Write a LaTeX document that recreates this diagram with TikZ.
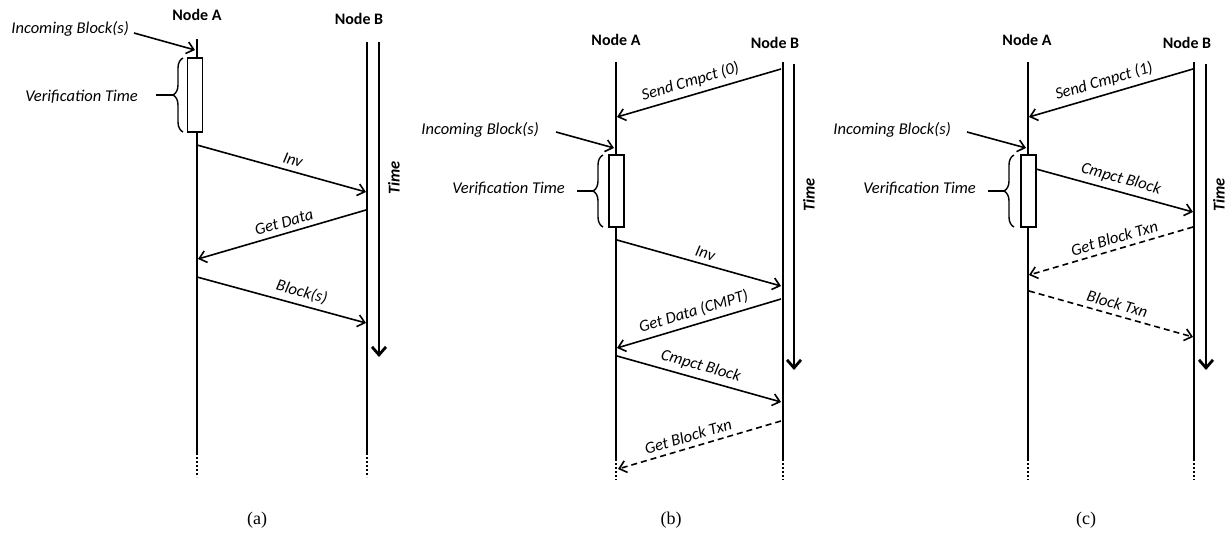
\documentclass[tikz,border=0pt]{standalone}
\usepackage{fontspec}
\setmainfont{Carlito}
\newfontfamily\capfont{Liberation Serif}
\usetikzlibrary{arrows.meta,decorations.pathreplacing}

\begin{document}
\begin{tikzpicture}[x=1pt,y=-1pt,
  font=\fontsize{16}{19}\selectfont,
  life/.style={line width=1.5pt},
  lifedots/.style={line width=1.8pt, dash pattern=on 2pt off 2pt},
  msg/.style={line width=1.6pt, -{Straight Barb[length=7pt,width=12pt]}},
  lazy/.style={msg, dash pattern=on 6pt off 4pt},
  timeax/.style={line width=2.8pt, -{Straight Barb[length=8pt,width=14pt]}},
  lbl/.style={above=4.5pt, sloped, inner sep=0.5pt, font=\fontsize{16.5}{19}\selectfont\itshape},
  side/.style={inner sep=0pt, font=\fontsize{16.5}{19}\selectfont\itshape},
  head/.style={inner sep=0pt, font=\fontsize{16}{19}\selectfont\bfseries},
  timelbl/.style={rotate=90, inner sep=0pt, font=\fontsize{16.5}{19}\selectfont\bfseries\itshape},
  vbox/.style={draw, fill=white, line width=1.5pt, minimum width=15pt, inner sep=0pt},
  vbrace/.style={decorate, decoration={brace, amplitude=10pt, aspect=0.5}, line width=1.4pt},
  subcap/.style={inner sep=0pt, font=\capfont\fontsize{18}{21}\selectfont}
]
\useasboundingbox (0,0) rectangle (1231,544);

% ---------------- (a) ----------------
\node[head] (aA) at (197,15) {Node A};
\node[head] (aB) at (359,19) {Node B};
\coordinate (aAtop) at (197,39);  \coordinate (aAend) at (197,453); \coordinate (aAbot) at (197,477);
\coordinate (aBtop) at (367,42);  \coordinate (aBend) at (367,453); \coordinate (aBbot) at (367,477);
\draw[life] (aAtop) -- (aAend);  \draw[lifedots] (aAend) -- (aAbot);
\draw[life] (aBtop) -- (aBend);  \draw[lifedots] (aBend) -- (aBbot);
\coordinate (aT1) at (379,42); \coordinate (aT2) at (379,357);
\draw[timeax] (aT1) -- (aT2);
\node[timelbl] (aTime) at (394,178) {Time};

\node[side, anchor=east] (aInc) at (129,29) {Incoming Block(s)};
\coordinate (aIn1) at (134,33); \coordinate (aIn2) at (195,50);
\draw[msg] (aIn1) -- (aIn2);
\node[vbox, minimum height=74pt] (aVer) at (195,95) {};
\draw[vbrace] (183,132) -- (183,58);
\node[side, anchor=east] (aVt) at (138,97) {Verification Time};
\coordinate (aD1) at (156,95); \coordinate (aD2) at (173,95);
\draw[line width=1.4pt] (aD1) -- (aD2);

\coordinate (a1s) at (197,145); \coordinate (a1e) at (366,192);
\coordinate (a2s) at (366,210); \coordinate (a2e) at (198,259);
\coordinate (a3s) at (197,277); \coordinate (a3e) at (366,323);
\draw[msg] (a1s) -- node[lbl, pos=0.55] {Inv} (a1e);
\draw[msg] (a2s) -- node[lbl, pos=0.47] {Get Data} (a2e);
\draw[msg] (a3s) -- node[lbl, pos=0.6] {Block(s)} (a3e);

% ---------------- (b) ----------------
\node[head] (bA) at (616,40) {Node A};
\node[head] (bB) at (775,43) {Node B};
\coordinate (bAtop) at (616,62);  \coordinate (bAend) at (616,459); \coordinate (bAbot) at (616,480);
\coordinate (bBtop) at (783,62);  \coordinate (bBend) at (783,459); \coordinate (bBbot) at (783,480);
\draw[life] (bAtop) -- (bAend);  \draw[lifedots] (bAend) -- (bAbot);
\draw[life] (bBtop) -- (bBend);  \draw[lifedots] (bBend) -- (bBbot);
\coordinate (bT1) at (794,64); \coordinate (bT2) at (794,370);
\draw[timeax] (bT1) -- (bT2);
\node[timelbl] (bTime) at (809,195) {Time};

\coordinate (b0s) at (781,69); \coordinate (b0e) at (617,117);
\draw[msg] (b0s) -- node[lbl, pos=0.53] {Send Cmpct (0)} (b0e);

\node[side, anchor=east] (bInc) at (539,130) {Incoming Block(s)};
\coordinate (bIn1) at (556,132); \coordinate (bIn2) at (614,148);
\draw[msg] (bIn1) -- (bIn2);
\node[vbox, minimum height=72pt] (bVer) at (616.5,191) {};
\draw[vbrace] (603,227) -- (603,155);
\node[side, anchor=east] (bVt) at (565,189) {Verification Time};
\coordinate (bD1) at (577,191); \coordinate (bD2) at (593,191);
\draw[line width=1.4pt] (bD1) -- (bD2);

\coordinate (b1s) at (617,240); \coordinate (b1e) at (781,286);
\coordinate (b2s) at (781,299); \coordinate (b2e) at (617,348);
\coordinate (b3s) at (617,356); \coordinate (b3e) at (781,402);
\coordinate (b4s) at (781,421); \coordinate (b4e) at (618,469);
\draw[msg] (b1s) -- node[lbl, pos=0.52] {Inv} (b1e);
\draw[msg] (b2s) -- node[lbl, pos=0.51] {Get Data (CMPT)} (b2e);
\draw[msg] (b3s) -- node[lbl, pos=0.49] {Cmpct Block} (b3e);
\draw[lazy] (b4s) -- node[lbl, pos=0.55] {Get Block Txn} (b4e);

% ---------------- (c) ----------------
\node[head] (cA) at (1027,40) {Node A};
\node[head] (cB) at (1187,43) {Node B};
\coordinate (cAtop) at (1028,62);  \coordinate (cAend) at (1028,459); \coordinate (cAbot) at (1028,480);
\coordinate (cBtop) at (1194,62);  \coordinate (cBend) at (1194,459); \coordinate (cBbot) at (1194,480);
\draw[life] (cAtop) -- (cAend);  \draw[lifedots] (cAend) -- (cAbot);
\draw[life] (cBtop) -- (cBend);  \draw[lifedots] (cBend) -- (cBbot);
\coordinate (cT1) at (1206,64); \coordinate (cT2) at (1206,370);
\draw[timeax] (cT1) -- (cT2);
\node[timelbl] (cTime) at (1219,195) {Time};

\coordinate (c0s) at (1193,69); \coordinate (c0e) at (1029,117);
\draw[msg] (c0s) -- node[lbl, pos=0.52] {Send Cmpct (1)} (c0e);

\node[side, anchor=east] (cInc) at (951,130) {Incoming Block(s)};
\coordinate (cIn1) at (967,132); \coordinate (cIn2) at (1026,148);
\draw[msg] (cIn1) -- (cIn2);
\node[vbox, minimum height=72pt] (cVer) at (1028.5,191) {};
\draw[vbrace] (1014,227) -- (1014,155);
\node[side, anchor=east] (cVt) at (976,189) {Verification Time};
\coordinate (cD1) at (988,191); \coordinate (cD2) at (1004,191);
\draw[line width=1.4pt] (cD1) -- (cD2);

\coordinate (c1s) at (1036,169); \coordinate (c1e) at (1193,212);
\coordinate (c2s) at (1193,227); \coordinate (c2e) at (1029,275);
\coordinate (c3s) at (1029,291); \coordinate (c3e) at (1193,337);
\draw[msg] (c1s) -- node[lbl, pos=0.52] {Cmpct Block} (c1e);
\draw[lazy] (c2s) -- node[lbl, pos=0.46] {Get Block Txn} (c2e);
\draw[lazy] (c3s) -- node[lbl, pos=0.52] {Block Txn} (c3e);

% ---------------- captions ----------------
\node[subcap] (capa) at (257,520) {(a)};
\node[subcap] (capb) at (671,520) {(b)};
\node[subcap] (capc) at (1086,520) {(c)};
\end{tikzpicture}
\end{document}
